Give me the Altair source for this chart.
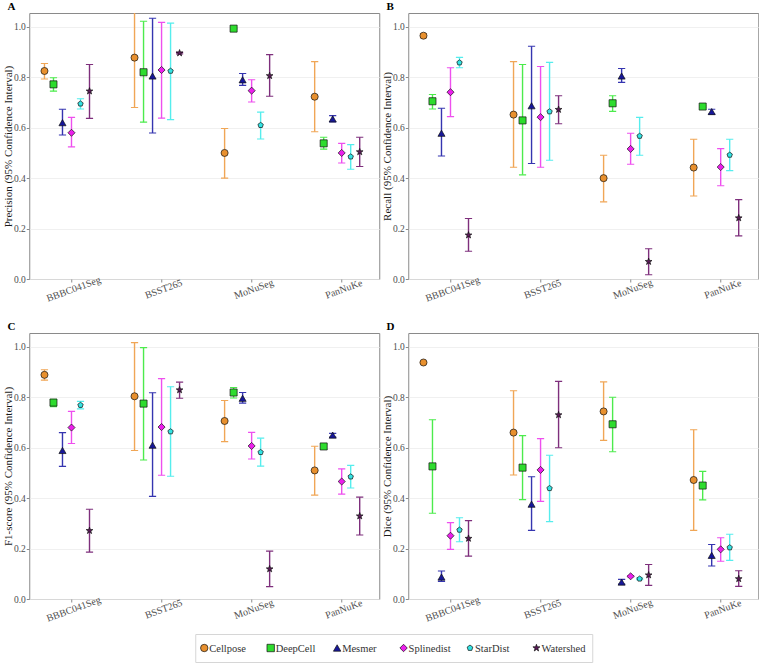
import json
import altair as alt
import pandas as pd

datasets = ["BBBC041Seg", "BSST265", "MoNuSeg", "PanNuKe"]
methods = ["Cellpose", "DeepCell", "Mesmer", "Splinedist", "StarDist", "Watershed"]

# ---- Precision (rows = datasets, columns = methods) ----
precision_mean = [[0.825, 0.772, 0.620, 0.580, 0.695, 0.745],
                  [0.878, 0.820, 0.805, 0.829, 0.825, 0.896],
                  [0.500, 0.993, 0.790, 0.747, 0.610, 0.806],
                  [0.723, 0.538, 0.635, 0.500, 0.485, 0.504]]
precision_lo = [[0.793, 0.745, 0.571, 0.524, 0.674, 0.637],
                [0.680, 0.622, 0.579, 0.638, 0.632, 0.893],
                [0.400, 0.991, 0.768, 0.702, 0.555, 0.725],
                [0.584, 0.515, 0.623, 0.460, 0.435, 0.446]]
precision_hi = [[0.855, 0.798, 0.673, 0.641, 0.715, 0.851],
                [1.090, 1.022, 1.034, 1.018, 1.015, 0.899],
                [0.597, 0.995, 0.815, 0.790, 0.662, 0.890],
                [0.862, 0.562, 0.648, 0.538, 0.533, 0.562]]

# ---- Recall ----
recall_mean = [[0.965, 0.705, 0.578, 0.741, 0.858, 0.174],
               [0.652, 0.629, 0.687, 0.642, 0.664, 0.672],
               [0.400, 0.697, 0.805, 0.516, 0.567, 0.069],
               [0.442, 0.684, 0.664, 0.444, 0.492, 0.242]]
recall_lo = [[0.957, 0.674, 0.488, 0.644, 0.838, 0.110],
             [0.443, 0.413, 0.458, 0.443, 0.471, 0.616],
             [0.306, 0.665, 0.780, 0.455, 0.491, 0.017],
             [0.329, 0.681, 0.654, 0.370, 0.430, 0.171]]
recall_hi = [[0.973, 0.732, 0.677, 0.838, 0.879, 0.240],
             [0.862, 0.851, 0.923, 0.843, 0.859, 0.727],
             [0.491, 0.727, 0.835, 0.578, 0.641, 0.120],
             [0.554, 0.687, 0.673, 0.517, 0.554, 0.315]]

# ---- F1-score ----
f1_mean = [[0.889, 0.779, 0.589, 0.680, 0.769, 0.271],
           [0.804, 0.775, 0.610, 0.682, 0.664, 0.829],
           [0.706, 0.819, 0.796, 0.607, 0.582, 0.119],
           [0.510, 0.605, 0.650, 0.466, 0.485, 0.329]]
f1_lo = [[0.868, 0.763, 0.526, 0.617, 0.754, 0.186],
         [0.589, 0.551, 0.407, 0.491, 0.487, 0.796],
         [0.624, 0.797, 0.777, 0.555, 0.527, 0.049],
         [0.412, 0.594, 0.642, 0.416, 0.440, 0.254]]
f1_hi = [[0.909, 0.792, 0.660, 0.744, 0.784, 0.356],
         [1.017, 0.997, 0.818, 0.874, 0.842, 0.860],
         [0.787, 0.839, 0.819, 0.661, 0.638, 0.190],
         [0.606, 0.614, 0.657, 0.516, 0.530, 0.404]]

# ---- Dice ----
dice_mean = [[0.938, 0.526, 0.087, 0.251, 0.274, 0.240],
             [0.660, 0.521, 0.376, 0.512, 0.439, 0.730],
             [0.744, 0.693, 0.067, 0.090, 0.080, 0.095],
             [0.472, 0.450, 0.173, 0.197, 0.204, 0.080]]
dice_lo = [[0.934, 0.340, 0.070, 0.197, 0.227, 0.170],
           [0.492, 0.394, 0.272, 0.387, 0.307, 0.600],
           [0.629, 0.584, 0.059, 0.087, 0.077, 0.054],
           [0.272, 0.393, 0.131, 0.150, 0.153, 0.050]]
dice_hi = [[0.942, 0.711, 0.111, 0.303, 0.322, 0.311],
           [0.826, 0.648, 0.485, 0.636, 0.570, 0.863],
           [0.861, 0.800, 0.078, 0.093, 0.083, 0.137],
           [0.671, 0.506, 0.216, 0.243, 0.257, 0.112]]

method_colors = ["#E8902E", "#2EDC2E", "#17179A", "#EC1FEC", "#33E3E3", "#5A1A58"]
bar_colors = ["#F0A656", "#4CEB4C", "#3535B0", "#EE4FEE", "#55EDED", "#7E2F7C"]
STAR = ("M0,-1L0.235,-0.324L0.951,-0.309L0.380,0.124L0.588,0.809L0,0.4"
        "L-0.588,0.809L-0.380,0.124L-0.951,-0.309L-0.235,-0.324Z")
PENTA = "M0,-0.8L0.761,-0.247L0.47,0.647L-0.47,0.647L-0.761,-0.247Z"
method_shapes = ["circle", "square", "triangle-up", "diamond", PENTA, STAR]

SERIF = "Liberation Serif"


def build_df(mean, lo, hi):
    rows = []
    for i, d in enumerate(datasets):
        for j, m in enumerate(methods):
            rows.append(dict(dataset=d, di=i, mi=j, method=m,
                             mean=mean[i][j], lo=lo[i][j], hi=hi[i][j]))
    return pd.DataFrame(rows)


label_expr = json.dumps(datasets) + "[datum.value]"
xscale = alt.Scale(domain=[-0.469, 3.417], nice=False, zero=False)
yscale = alt.Scale(domain=[0, 1.055], nice=False, zero=False)
fill_scale = alt.Scale(domain=methods, range=method_colors)
stroke_scale = alt.Scale(domain=methods, range=bar_colors)
shape_scale = alt.Scale(domain=methods, range=method_shapes)


def panel(letter, ytitle, df):
    base = alt.Chart(df).transform_calculate(
        xpos="datum.di + (datum.mi - 3) * 0.1",
        xl="datum.di + (datum.mi - 3) * 0.1 - 0.04",
        xr="datum.di + (datum.mi - 3) * 0.1 + 0.04",
    )
    xaxis = alt.Axis(values=[0, 1, 2, 3], labelExpr=label_expr, title=None, grid=False,
                     labelAngle=-20, labelAlign="center", labelBaseline="top",
                     labelPadding=2, tickSize=3, labelFontSize=10)
    yaxis = alt.Axis(title=ytitle, values=[0, 0.2, 0.4, 0.6, 0.8, 1.0], format=".1f",
                     grid=True, tickSize=3, labelPadding=1, titlePadding=0,
                     labelFontSize=9.5)
    stroke = alt.Stroke("method:N", scale=stroke_scale, legend=None)
    bars = base.mark_rule(clip=True, strokeWidth=1.4).encode(
        x=alt.X("xpos:Q", scale=xscale, axis=xaxis),
        y=alt.Y("lo:Q", scale=yscale, axis=yaxis),
        y2="hi:Q",
        stroke=stroke,
    )
    cap_lo = base.mark_rule(clip=True, strokeWidth=1.1).encode(
        x=alt.X("xl:Q", scale=xscale), x2="xr:Q",
        y=alt.Y("lo:Q", scale=yscale), stroke=stroke)
    cap_hi = base.mark_rule(clip=True, strokeWidth=1.1).encode(
        x=alt.X("xl:Q", scale=xscale), x2="xr:Q",
        y=alt.Y("hi:Q", scale=yscale), stroke=stroke)
    pts = base.mark_point(filled=True, opacity=1, size=50, stroke="#111111",
                          strokeWidth=0.7).encode(
        x=alt.X("xpos:Q", scale=xscale),
        y=alt.Y("mean:Q", scale=yscale),
        fill=alt.Fill("method:N", scale=fill_scale, legend=None),
        shape=alt.Shape("method:N", scale=shape_scale, legend=None),
    )
    return alt.layer(bars, cap_lo, cap_hi, pts).properties(
        width=350, height=266,
        title=alt.TitleParams(text=letter, anchor="start", frame="bounds",
                              font=SERIF, fontSize=11, fontWeight="bold",
                              color="black", offset=1, dx=5),
    )


pA = panel("A", "Precision (95% Confidence Interval)", build_df(precision_mean, precision_lo, precision_hi))
pB = panel("B", "Recall (95% Confidence Interval)", build_df(recall_mean, recall_lo, recall_hi))
pC = panel("C", "F1-score (95% Confidence Interval)", build_df(f1_mean, f1_lo, f1_hi))
pD = panel("D", "Dice (95% Confidence Interval)", build_df(dice_mean, dice_lo, dice_hi))

# ---- key (legend) drawn as its own small boxed view ----
key_df = pd.DataFrame({"method": methods, "k": list(range(len(methods)))})
key_x = alt.X("k:Q", scale=alt.Scale(domain=[-0.1355, 5.84], nice=False, zero=False),
              axis=None)
key_base = alt.Chart(key_df)
key_pts = key_base.mark_point(filled=True, opacity=1, size=55, stroke="#111111",
                              strokeWidth=0.7).encode(
    x=key_x, y=alt.value(14),
    fill=alt.Fill("method:N", scale=fill_scale, legend=None),
    shape=alt.Shape("method:N", scale=shape_scale, legend=None),
)
key_txt = key_base.mark_text(align="left", baseline="middle", dx=5, font=SERIF,
                             fontSize=10.5, color="#333333").encode(
    x=key_x, y=alt.value(14.5), text="method:N")
key = alt.layer(key_pts, key_txt).properties(
    width=397, height=28,
    view=alt.ViewBackground(stroke="#d6d6d6", strokeWidth=1, fill="white"),
)

row1 = alt.hconcat(pA, pB, spacing=0)
row2 = alt.hconcat(pC, pD, spacing=0)
panels = alt.vconcat(row1, row2, spacing=16)

chart = (
    alt.vconcat(panels, key, spacing=9, center=True)
    .properties(padding={"left": 1, "top": 0, "right": 0, "bottom": 0}, background="white")
    .configure_view(stroke="#8a8a8a", strokeWidth=1)
    .configure_axis(
        labelFont=SERIF, labelColor="#4d4d4d",
        titleFont=SERIF, titleFontSize=11, titleFontWeight="normal", titleColor="#1a1a1a",
        tickColor="#8a8a8a", domain=False, gridColor="#ececec", gridWidth=0.8,
    )
)

chart.save("out.html", embed_options={"renderer": "svg", "actions": False})
